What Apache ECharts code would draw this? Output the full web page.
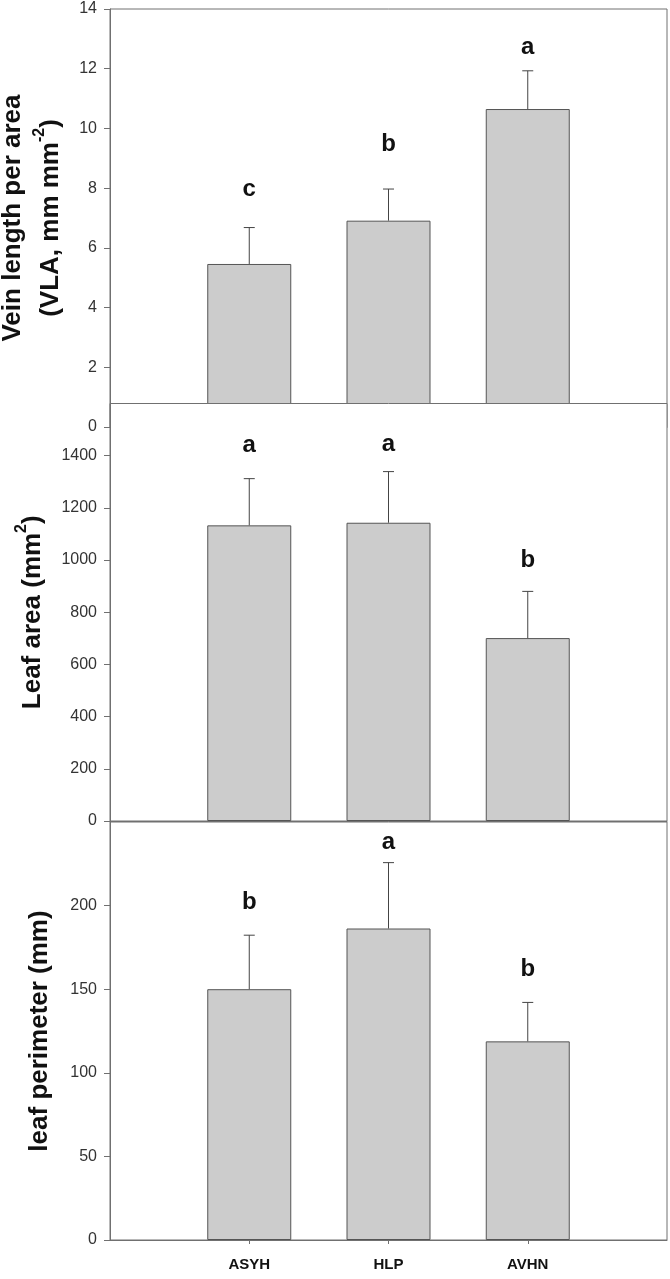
<!DOCTYPE html>
<html>
<head>
<meta charset="utf-8">
<script src="https://cdn.jsdelivr.net/npm/echarts@6/dist/echarts.min.js"></script>
<style>
  html, body { margin: 0; padding: 0; background: #fff; }
  #echartsContainer { width: 670px; height: 1279px; }
</style>
</head>
<body>
<div id="echartsContainer"></div>
<script>
// categories (empty slots at both ends keep the bars at 1/4, 2/4, 3/4 of the width)
const categories = ['', 'ASYH', 'HLP', 'AVHN', '']

// panel 1: vein length per area
const vlaMean = [5.46, 6.91, 10.65]
const vlaUpper = [6.68, 7.97, 11.93]
const vlaLetters = ['c', 'b', 'a']
const vlaLetterPos = [7.97, 9.45, 12.73]
const vlaTicks = [0, 2, 4, 6, 8, 10, 12, 14]

// panel 2: leaf area
const areaMean = [1133, 1143, 701]
const areaUpper = [1312, 1339, 880]
const areaLetters = ['a', 'a', 'b']
const areaLetterPos = [1438, 1445, 998]
const areaTicks = [0, 200, 400, 600, 800, 1000, 1200, 1400]

// panel 3: leaf perimeter
const perimMean = [150, 186.3, 118.8]
const perimUpper = [182.3, 225.7, 142.1]
const perimLetters = ['b', 'a', 'b']
const perimLetterPos = [202, 237.8, 161.8]
const perimTicks = [0, 50, 100, 150, 200]

const FONT = 'Arial, "Liberation Sans", sans-serif'
const LINE = '#707070'

const panels = [
  { top: 9, height: 418, max: 14, interval: 2, ticks: vlaTicks, mean: vlaMean, upper: vlaUpper, letters: vlaLetters, letterPos: vlaLetterPos,
    name: '{t|Vein length per area}\n{t|(VLA, mm mm}{s|-2}{t|)}', nameGap: 40 },
  { top: 403.5, height: 417.5, max: 1600, interval: 200, ticks: areaTicks, mean: areaMean, upper: areaUpper, letters: areaLetters, letterPos: areaLetterPos,
    name: '{t|Leaf area (mm}{s|2}{t|)}', nameGap: 58 },
  { top: 822, height: 418, max: 250, interval: 50, ticks: perimTicks, mean: perimMean, upper: perimUpper, letters: perimLetters, letterPos: perimLetterPos,
    name: '{t|leaf perimeter (mm)}', nameGap: 51 }
]

const myChart = echarts.init(document.getElementById('echartsContainer'))

let grid = [], xAxis = [], yAxis = [], series = []
panels.forEach((p, i) => {
  const last = i === panels.length - 1
  grid.push({
    left: 110, right: 3, top: p.top, height: p.height,
    containLabel: false, outerBoundsMode: 'none',
    show: true, backgroundColor: '#fff', borderColor: LINE, borderWidth: 1, zlevel: i
  })
  xAxis.push({
    type: 'category', gridIndex: i, data: categories, boundaryGap: false, zlevel: i,
    axisLine: { lineStyle: { color: LINE } },
    axisTick: { show: last, length: 4, interval: (idx) => idx >= 1 && idx <= 3, lineStyle: { color: LINE } },
    axisLabel: { show: last, interval: 0, margin: 17, fontFamily: FONT, fontWeight: 'bold', fontSize: 15, color: '#111' },
    splitLine: { show: false }
  })
  yAxis.push({
    type: 'value', gridIndex: i, min: 0, max: p.max, interval: p.interval, zlevel: i,
    name: p.name, nameLocation: 'middle', nameRotate: 90, nameGap: p.nameGap,
    nameTextStyle: {
      rich: {
        t: { fontFamily: FONT, fontWeight: 'bold', fontSize: 26, color: '#111', lineHeight: 38 },
        s: { fontFamily: FONT, fontWeight: 'bold', fontSize: 16, color: '#111', verticalAlign: 'top' }
      }
    },
    axisLine: { show: true, lineStyle: { color: LINE } },
    axisTick: { show: true, length: 6, customValues: p.ticks, lineStyle: { color: LINE } },
    axisLabel: { customValues: p.ticks, formatter: (v) => String(v), margin: 13, fontFamily: FONT, fontSize: 16, color: '#333' },
    splitLine: { show: false }
  })
  series.push({
    type: 'bar', xAxisIndex: i, yAxisIndex: i, zlevel: i, barWidth: 84,
    data: ['-'].concat(p.mean, ['-']),
    itemStyle: { color: '#cccccc', borderColor: '#555', borderWidth: 1 },
    silent: true
  })
  series.push({
    type: 'custom', xAxisIndex: i, yAxisIndex: i, zlevel: i, z: 5, silent: true,
    data: p.mean.map((m, k) => [k + 1, m, p.upper[k], p.letterPos[k]]),
    renderItem: function (params, api) {
      const base = api.coord([api.value(0), api.value(1)])
      const top = api.coord([api.value(0), api.value(2)])
      const lab = api.coord([api.value(0), api.value(3)])
      return {
        type: 'group',
        children: [
          { type: 'line', shape: { x1: base[0], y1: base[1], x2: base[0], y2: top[1] }, style: { stroke: '#444', lineWidth: 1 } },
          { type: 'line', shape: { x1: base[0] - 5.5, y1: top[1], x2: base[0] + 5.5, y2: top[1] }, style: { stroke: '#444', lineWidth: 1 } },
          { type: 'text', x: lab[0], y: lab[1], style: { text: p.letters[params.dataIndex], fill: '#111', font: 'bold 24px ' + FONT, align: 'center', verticalAlign: 'middle' } }
        ]
      }
    }
  })
})

let option = {
  backgroundColor: '#fff',
  animation: false,
  grid: grid,
  xAxis: xAxis,
  yAxis: yAxis,
  series: series
}
myChart.setOption(option)
</script>
</body>
</html>
